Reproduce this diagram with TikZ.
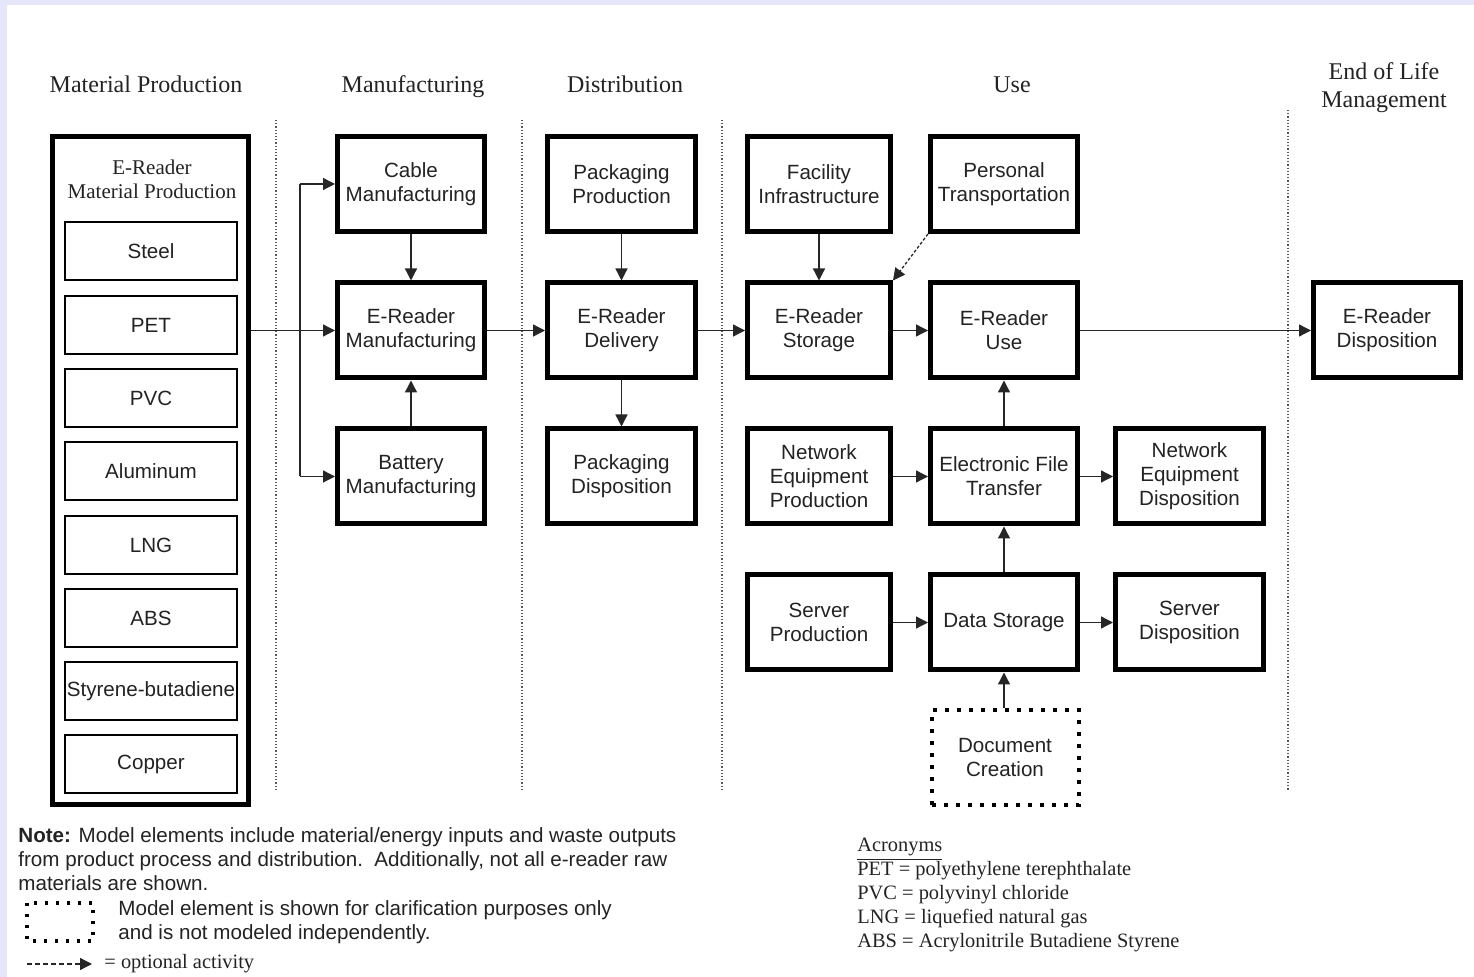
\documentclass[tikz,border=0pt]{standalone}
\usepackage{fontspec}
\setmainfont{Liberation Serif}
\setsansfont{Liberation Sans}
\usetikzlibrary{arrows.meta}
\definecolor{lav}{RGB}{230,230,250}
\definecolor{ink}{RGB}{35,35,35}
\begin{document}
\begin{tikzpicture}[x=0.5pt,y=-0.5pt,
  sansf/.style={font=\sffamily\fontsize{10.3}{12}\selectfont},
  box/.style={draw=black,line width=2.5pt,align=center,sansf,text=ink,inner sep=1pt,minimum height=47.5pt,minimum width=73.5pt},
  narrowbox/.style={box,minimum width=71.5pt},
  widebox/.style={box,minimum width=74pt},
  dotbox/.style={box,draw=black,line width=2pt,dash pattern=on 2pt off 4pt,line cap=butt},
  mat/.style={draw=black,line width=1pt,minimum width=86pt,minimum height=29pt,sansf,text=ink,inner sep=0pt},
  big/.style={draw=black,line width=2.5pt,minimum width=98pt,minimum height=334pt,inner sep=0pt},
  arr/.style={-{Triangle[length=6pt,width=6pt]},line width=0.65pt,draw=black!85},
  optarr/.style={arr,dash pattern=on 1.5pt off 1pt},
  sep/.style={densely dotted,line width=0.6pt,draw=black!65},
  head/.style={font=\fontsize{12}{14}\selectfont,align=center,text=ink,inner sep=0pt,anchor=base},
  serifsm/.style={font=\fontsize{10.2}{12}\selectfont,text=ink,inner sep=0pt,align=left},
  sanssm/.style={sansf,text=ink,inner sep=0pt,align=left}
]
\useasboundingbox (0,0) rectangle (1474,977);
\fill[lav] (0,0) rectangle (1474,977);
\fill[white] (7,5) rectangle (1474,977);

% headings
\node[head] (h1) at (146,93) {Material Production};
\node[head] (h2) at (413,93) {Manufacturing};
\node[head] (h3) at (625,93) {Distribution};
\node[head] (h4) at (1012,93) {Use};
\node[head] (h5) at (1384,108) {End of Life\\Management};

% separators
\coordinate (s1t) at (276,120); \coordinate (s1b) at (276,790);
\coordinate (s2t) at (522,120); \coordinate (s2b) at (522,790);
\coordinate (s3t) at (722,120); \coordinate (s3b) at (722,790);
\coordinate (s4t) at (1288,110); \coordinate (s4b) at (1288,790);
\draw[sep] (s1t) -- (s1b);
\draw[sep] (s2t) -- (s2b);
\draw[sep] (s3t) -- (s3b);
\draw[sep] (s4t) -- (s4b);

% material production
\node[big] (matbox) at (150.5,470.5) {};
\node[font=\fontsize{10.5}{12}\selectfont,align=center,text=ink,inner sep=0pt] (mattitle) at (152,179) {E-Reader\\Material Production};
\node[mat] (steel) at (151,251) {Steel};
\node[mat] (pet) at (151,325) {PET};
\node[mat] (pvc) at (151,398) {PVC};
\node[mat] (alu) at (151,471) {Aluminum};
\node[mat] (lng) at (151,545) {LNG};
\node[mat] (abs) at (151,618) {ABS};
\node[mat] (sbr) at (151,691) {Styrene-butadiene};
\node[mat] (cu) at (151,764) {Copper};

% manufacturing
\node[box] (cable) at (411,184) {Cable\\Manufacturing};
\node[box] (emfg) at (411,330.5) {E-Reader\\Manufacturing};
\node[box] (batt) at (411,476.5) {Battery\\Manufacturing};

% distribution
\node[widebox] (pkgp) at (621.5,184) {Packaging\\Production};
\node[widebox] (deliv) at (621.5,330.5) {E-Reader\\Delivery};
\node[widebox] (pkgd) at (621.5,476.5) {Packaging\\Disposition};

% use
\node[narrowbox] (fac) at (819,184) {Facility\\Infrastructure};
\node[box] (pers) at (1004,184) {Personal\\Transportation};
\node[narrowbox] (stor) at (819,330.5) {E-Reader\\Storage};
\node[box] (use) at (1004,330.5) {E-Reader\\Use};
\node[narrowbox] (netp) at (819,476.5) {Network\\Equipment\\Production};
\node[box] (eft) at (1004,476.5) {Electronic File\\Transfer};
\node[widebox] (netd) at (1189.5,476.5) {Network\\Equipment\\Disposition};
\node[narrowbox] (servp) at (819,622.5) {Server\\Production};
\node[box] (data) at (1004,622.5) {Data Storage};
\node[widebox] (servd) at (1189.5,622.5) {Server\\Disposition};
\node[dotbox] (doc) at (1005,758) {Document\\Creation};

% end of life
\node[box] (edisp) at (1387,330.5) {E-Reader\\Disposition};

% connectors
\coordinate (br) at (300,330.5);
\draw[arr] (emfg.west -| matbox.east) -- (emfg.west);
\draw[line width=0.65pt,draw=black!85] (br |- cable.west) -- (br |- batt.west);
\draw[arr] (br |- cable.west) -- (cable.west);
\draw[arr] (br |- batt.west) -- (batt.west);
\draw[arr] (cable) -- (emfg);
\draw[arr] (batt) -- (emfg);
\draw[arr] (emfg) -- (deliv);
\draw[arr] (pkgp) -- (deliv);
\draw[arr] (deliv) -- (pkgd);
\draw[arr] (deliv) -- (stor);
\draw[arr] (fac) -- (stor);
\draw[arr] (stor) -- (use);
\draw[optarr] (pers.south west) -- (stor.north east);
\draw[arr] (use) -- (edisp);
\draw[arr] (eft) -- (use);
\draw[arr] (netp) -- (eft);
\draw[arr] (eft) -- (netd);
\draw[arr] (data) -- (eft);
\draw[arr] (servp) -- (data);
\draw[arr] (data) -- (servd);
\draw[arr] (doc.north -| data.south) -- (data.south);

% note
\node[sanssm,anchor=north west] (note) at (18,827) {\textbf{Note:} Model elements include material/energy inputs and waste outputs\\from product process and distribution.\ \ Additionally, not all e-reader raw\\materials are shown.};
\coordinate (lg1) at (27,903); \coordinate (lg2) at (93,941);
\draw[line width=1.7pt,dash pattern=on 1.7pt off 3.8pt] (lg1) rectangle (lg2);
\node[sanssm,anchor=north west] (lgtext) at (118,900) {Model element is shown for clarification purposes only\\and is not modeled independently.};
\coordinate (oa1) at (27,964); \coordinate (oa2) at (92,964);
\draw[arr,dash pattern=on 2.5pt off 1.5pt] (oa1) -- (oa2);
\node[serifsm,anchor=west] (oatext) at (104,964) {= optional activity};

% acronyms
\node[serifsm,anchor=north west] (acr) at (857,838) {\underline{Acronyms}\\PET = polyethylene terephthalate\\PVC = polyvinyl chloride\\LNG = liquefied natural gas\\ABS = Acrylonitrile Butadiene Styrene};
\end{tikzpicture}
\end{document}
